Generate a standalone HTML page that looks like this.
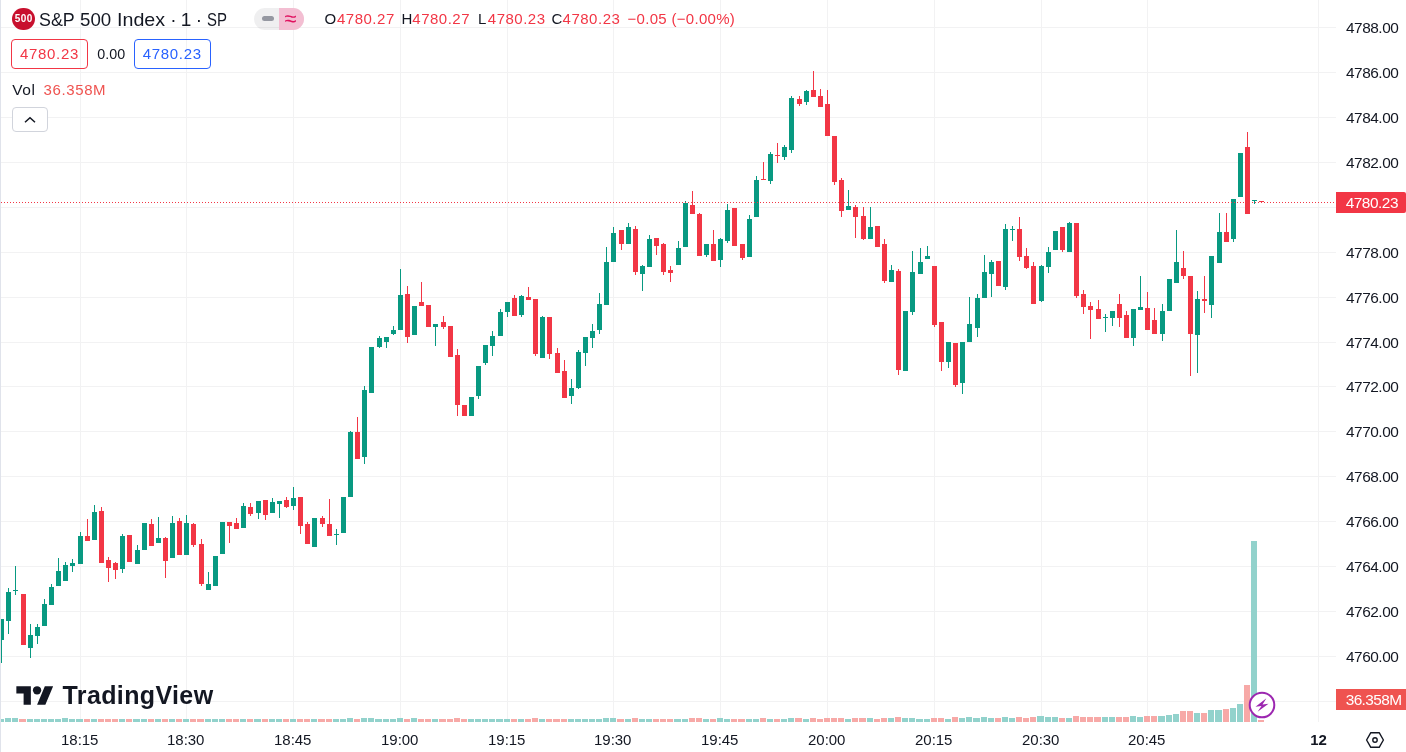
<!DOCTYPE html>
<html><head><meta charset="utf-8"><title>S&amp;P 500 Index chart</title>
<style>
html,body{margin:0;padding:0;background:#fff;}
body{width:1406px;height:752px;position:relative;overflow:hidden;font-family:"Liberation Sans",sans-serif;color:#131722;}
#chart{position:absolute;left:0;top:0;}
.abs{position:absolute;white-space:nowrap;}
.pl{position:absolute;left:1346px;width:58px;height:20px;line-height:20px;font-size:15.4px;letter-spacing:-0.47px;color:#131722;}
.tl{position:absolute;top:730px;width:60px;text-align:center;height:20px;line-height:20px;font-size:15px;letter-spacing:-0.08px;color:#131722;}
.leftedge{position:absolute;left:0;top:0;width:1px;height:752px;background:#e0e3eb;}
.title{left:0;top:8.4px;height:24px;line-height:24px;font-size:19px;}
.tw{position:absolute;top:0;display:block;transform-origin:0 50%;white-space:nowrap;}
.ohlc{top:9.4px;height:20px;line-height:20px;font-size:15px;letter-spacing:0.5px;}
.red{color:#f23645;}
.box{position:absolute;top:39.3px;height:27.3px;width:74.5px;border:1px solid;border-radius:4px;font-size:15px;letter-spacing:0.7px;line-height:27px;text-align:center;}
</style></head><body>
<svg id="chart" width="1406" height="752" viewBox="0 0 1406 752" shape-rendering="crispEdges">
<rect x="80" y="0" width="1" height="722" fill="#f2f2f3"/>
<rect x="186" y="0" width="1" height="722" fill="#f2f2f3"/>
<rect x="293" y="0" width="1" height="722" fill="#f2f2f3"/>
<rect x="400" y="0" width="1" height="722" fill="#f2f2f3"/>
<rect x="507" y="0" width="1" height="722" fill="#f2f2f3"/>
<rect x="613" y="0" width="1" height="722" fill="#f2f2f3"/>
<rect x="720" y="0" width="1" height="722" fill="#f2f2f3"/>
<rect x="827" y="0" width="1" height="722" fill="#f2f2f3"/>
<rect x="934" y="0" width="1" height="722" fill="#f2f2f3"/>
<rect x="1041" y="0" width="1" height="722" fill="#f2f2f3"/>
<rect x="1147" y="0" width="1" height="722" fill="#f2f2f3"/>
<rect x="1318" y="0" width="1" height="722" fill="#f2f2f3"/>
<rect x="0" y="27" width="1336" height="1" fill="#f2f2f3"/>
<rect x="0" y="72" width="1336" height="1" fill="#f2f2f3"/>
<rect x="0" y="117" width="1336" height="1" fill="#f2f2f3"/>
<rect x="0" y="162" width="1336" height="1" fill="#f2f2f3"/>
<rect x="0" y="207" width="1336" height="1" fill="#f2f2f3"/>
<rect x="0" y="252" width="1336" height="1" fill="#f2f2f3"/>
<rect x="0" y="297" width="1336" height="1" fill="#f2f2f3"/>
<rect x="0" y="342" width="1336" height="1" fill="#f2f2f3"/>
<rect x="0" y="386" width="1336" height="1" fill="#f2f2f3"/>
<rect x="0" y="431" width="1336" height="1" fill="#f2f2f3"/>
<rect x="0" y="476" width="1336" height="1" fill="#f2f2f3"/>
<rect x="0" y="521" width="1336" height="1" fill="#f2f2f3"/>
<rect x="0" y="566" width="1336" height="1" fill="#f2f2f3"/>
<rect x="0" y="611" width="1336" height="1" fill="#f2f2f3"/>
<rect x="0" y="656" width="1336" height="1" fill="#f2f2f3"/>
<rect x="0" y="701" width="1336" height="1" fill="#f2f2f3"/>
<rect x="-2" y="719" width="6" height="3" fill="#92d2cc"/>
<rect x="5" y="718" width="6" height="4" fill="#92d2cc"/>
<rect x="12" y="718" width="6" height="4" fill="#92d2cc"/>
<rect x="19" y="719" width="7" height="3" fill="#f7a9a7"/>
<rect x="27" y="719" width="6" height="3" fill="#92d2cc"/>
<rect x="34" y="719" width="6" height="3" fill="#92d2cc"/>
<rect x="41" y="719" width="6" height="3" fill="#92d2cc"/>
<rect x="48" y="719" width="6" height="3" fill="#92d2cc"/>
<rect x="55" y="719" width="6" height="3" fill="#92d2cc"/>
<rect x="62" y="718" width="6" height="4" fill="#92d2cc"/>
<rect x="69" y="719" width="6" height="3" fill="#92d2cc"/>
<rect x="76" y="719" width="7" height="3" fill="#92d2cc"/>
<rect x="84" y="719" width="6" height="3" fill="#f7a9a7"/>
<rect x="91" y="719" width="6" height="3" fill="#92d2cc"/>
<rect x="98" y="719" width="6" height="3" fill="#f7a9a7"/>
<rect x="105" y="719" width="6" height="3" fill="#f7a9a7"/>
<rect x="112" y="719" width="6" height="3" fill="#f7a9a7"/>
<rect x="119" y="719" width="6" height="3" fill="#92d2cc"/>
<rect x="126" y="719" width="6" height="3" fill="#f7a9a7"/>
<rect x="133" y="719" width="7" height="3" fill="#92d2cc"/>
<rect x="141" y="719" width="6" height="3" fill="#92d2cc"/>
<rect x="148" y="719" width="6" height="3" fill="#f7a9a7"/>
<rect x="155" y="719" width="6" height="3" fill="#92d2cc"/>
<rect x="162" y="719" width="6" height="3" fill="#f7a9a7"/>
<rect x="169" y="719" width="6" height="3" fill="#92d2cc"/>
<rect x="176" y="719" width="6" height="3" fill="#f7a9a7"/>
<rect x="183" y="719" width="6" height="3" fill="#92d2cc"/>
<rect x="190" y="719" width="6" height="3" fill="#f7a9a7"/>
<rect x="197" y="719" width="7" height="3" fill="#f7a9a7"/>
<rect x="205" y="719" width="6" height="3" fill="#92d2cc"/>
<rect x="212" y="719" width="6" height="3" fill="#92d2cc"/>
<rect x="219" y="719" width="6" height="3" fill="#92d2cc"/>
<rect x="226" y="719" width="6" height="3" fill="#f7a9a7"/>
<rect x="233" y="719" width="6" height="3" fill="#f7a9a7"/>
<rect x="240" y="719" width="6" height="3" fill="#92d2cc"/>
<rect x="247" y="719" width="6" height="3" fill="#f7a9a7"/>
<rect x="254" y="719" width="7" height="3" fill="#92d2cc"/>
<rect x="262" y="719" width="6" height="3" fill="#f7a9a7"/>
<rect x="269" y="719" width="6" height="3" fill="#92d2cc"/>
<rect x="276" y="719" width="6" height="3" fill="#92d2cc"/>
<rect x="283" y="719" width="6" height="3" fill="#f7a9a7"/>
<rect x="290" y="719" width="6" height="3" fill="#92d2cc"/>
<rect x="297" y="719" width="6" height="3" fill="#f7a9a7"/>
<rect x="304" y="719" width="6" height="3" fill="#f7a9a7"/>
<rect x="311" y="719" width="6" height="3" fill="#92d2cc"/>
<rect x="318" y="719" width="7" height="3" fill="#f7a9a7"/>
<rect x="326" y="719" width="6" height="3" fill="#f7a9a7"/>
<rect x="333" y="719" width="6" height="3" fill="#92d2cc"/>
<rect x="340" y="719" width="6" height="3" fill="#92d2cc"/>
<rect x="347" y="718" width="6" height="4" fill="#92d2cc"/>
<rect x="354" y="719" width="6" height="3" fill="#f7a9a7"/>
<rect x="361" y="718" width="6" height="4" fill="#92d2cc"/>
<rect x="368" y="718" width="6" height="4" fill="#92d2cc"/>
<rect x="375" y="719" width="7" height="3" fill="#92d2cc"/>
<rect x="383" y="719" width="6" height="3" fill="#92d2cc"/>
<rect x="390" y="719" width="6" height="3" fill="#92d2cc"/>
<rect x="397" y="718" width="6" height="4" fill="#92d2cc"/>
<rect x="404" y="719" width="6" height="3" fill="#f7a9a7"/>
<rect x="411" y="718" width="6" height="4" fill="#92d2cc"/>
<rect x="418" y="719" width="6" height="3" fill="#f7a9a7"/>
<rect x="425" y="719" width="6" height="3" fill="#f7a9a7"/>
<rect x="432" y="719" width="6" height="3" fill="#92d2cc"/>
<rect x="439" y="719" width="7" height="3" fill="#f7a9a7"/>
<rect x="447" y="719" width="6" height="3" fill="#f7a9a7"/>
<rect x="454" y="718" width="6" height="4" fill="#f7a9a7"/>
<rect x="461" y="719" width="6" height="3" fill="#f7a9a7"/>
<rect x="468" y="719" width="6" height="3" fill="#92d2cc"/>
<rect x="475" y="719" width="6" height="3" fill="#92d2cc"/>
<rect x="482" y="719" width="6" height="3" fill="#92d2cc"/>
<rect x="489" y="719" width="6" height="3" fill="#92d2cc"/>
<rect x="496" y="719" width="7" height="3" fill="#92d2cc"/>
<rect x="504" y="719" width="6" height="3" fill="#92d2cc"/>
<rect x="511" y="719" width="6" height="3" fill="#f7a9a7"/>
<rect x="518" y="719" width="6" height="3" fill="#92d2cc"/>
<rect x="525" y="719" width="6" height="3" fill="#f7a9a7"/>
<rect x="532" y="718" width="6" height="4" fill="#f7a9a7"/>
<rect x="539" y="719" width="6" height="3" fill="#92d2cc"/>
<rect x="546" y="719" width="6" height="3" fill="#f7a9a7"/>
<rect x="553" y="719" width="7" height="3" fill="#f7a9a7"/>
<rect x="561" y="719" width="6" height="3" fill="#f7a9a7"/>
<rect x="568" y="719" width="6" height="3" fill="#92d2cc"/>
<rect x="575" y="719" width="6" height="3" fill="#92d2cc"/>
<rect x="582" y="719" width="6" height="3" fill="#92d2cc"/>
<rect x="589" y="719" width="6" height="3" fill="#92d2cc"/>
<rect x="596" y="719" width="6" height="3" fill="#92d2cc"/>
<rect x="603" y="718" width="6" height="4" fill="#92d2cc"/>
<rect x="610" y="718" width="6" height="4" fill="#92d2cc"/>
<rect x="617" y="719" width="7" height="3" fill="#f7a9a7"/>
<rect x="625" y="719" width="6" height="3" fill="#92d2cc"/>
<rect x="632" y="718" width="6" height="4" fill="#f7a9a7"/>
<rect x="639" y="719" width="6" height="3" fill="#92d2cc"/>
<rect x="646" y="719" width="6" height="3" fill="#92d2cc"/>
<rect x="653" y="719" width="6" height="3" fill="#f7a9a7"/>
<rect x="660" y="719" width="6" height="3" fill="#f7a9a7"/>
<rect x="667" y="719" width="6" height="3" fill="#f7a9a7"/>
<rect x="674" y="719" width="7" height="3" fill="#92d2cc"/>
<rect x="682" y="719" width="6" height="3" fill="#92d2cc"/>
<rect x="689" y="718" width="6" height="4" fill="#f7a9a7"/>
<rect x="696" y="718" width="6" height="4" fill="#f7a9a7"/>
<rect x="703" y="719" width="6" height="3" fill="#92d2cc"/>
<rect x="710" y="719" width="6" height="3" fill="#f7a9a7"/>
<rect x="717" y="718" width="6" height="4" fill="#92d2cc"/>
<rect x="724" y="719" width="6" height="3" fill="#92d2cc"/>
<rect x="731" y="719" width="6" height="3" fill="#f7a9a7"/>
<rect x="738" y="719" width="7" height="3" fill="#f7a9a7"/>
<rect x="746" y="719" width="6" height="3" fill="#92d2cc"/>
<rect x="753" y="719" width="6" height="3" fill="#92d2cc"/>
<rect x="760" y="718" width="6" height="4" fill="#f7a9a7"/>
<rect x="767" y="719" width="6" height="3" fill="#92d2cc"/>
<rect x="774" y="719" width="6" height="3" fill="#f7a9a7"/>
<rect x="781" y="719" width="6" height="3" fill="#92d2cc"/>
<rect x="788" y="718" width="6" height="4" fill="#92d2cc"/>
<rect x="795" y="718" width="7" height="4" fill="#f7a9a7"/>
<rect x="803" y="719" width="6" height="3" fill="#92d2cc"/>
<rect x="810" y="718" width="6" height="4" fill="#f7a9a7"/>
<rect x="817" y="719" width="6" height="3" fill="#f7a9a7"/>
<rect x="824" y="718" width="6" height="4" fill="#f7a9a7"/>
<rect x="831" y="718" width="6" height="4" fill="#f7a9a7"/>
<rect x="838" y="718" width="6" height="4" fill="#f7a9a7"/>
<rect x="845" y="719" width="6" height="3" fill="#92d2cc"/>
<rect x="852" y="718" width="6" height="4" fill="#f7a9a7"/>
<rect x="859" y="718" width="7" height="4" fill="#f7a9a7"/>
<rect x="867" y="718" width="6" height="4" fill="#92d2cc"/>
<rect x="874" y="719" width="6" height="3" fill="#f7a9a7"/>
<rect x="881" y="718" width="6" height="4" fill="#f7a9a7"/>
<rect x="888" y="718" width="6" height="4" fill="#92d2cc"/>
<rect x="895" y="717" width="6" height="5" fill="#f7a9a7"/>
<rect x="902" y="718" width="6" height="4" fill="#92d2cc"/>
<rect x="909" y="718" width="6" height="4" fill="#92d2cc"/>
<rect x="916" y="719" width="7" height="3" fill="#92d2cc"/>
<rect x="924" y="719" width="6" height="3" fill="#92d2cc"/>
<rect x="931" y="718" width="6" height="4" fill="#f7a9a7"/>
<rect x="938" y="718" width="6" height="4" fill="#f7a9a7"/>
<rect x="945" y="719" width="6" height="3" fill="#92d2cc"/>
<rect x="952" y="717" width="6" height="5" fill="#f7a9a7"/>
<rect x="959" y="718" width="6" height="4" fill="#92d2cc"/>
<rect x="966" y="717" width="6" height="5" fill="#92d2cc"/>
<rect x="973" y="718" width="7" height="4" fill="#92d2cc"/>
<rect x="981" y="717" width="6" height="5" fill="#92d2cc"/>
<rect x="988" y="718" width="6" height="4" fill="#92d2cc"/>
<rect x="995" y="718" width="6" height="4" fill="#f7a9a7"/>
<rect x="1002" y="717" width="6" height="5" fill="#92d2cc"/>
<rect x="1009" y="718" width="6" height="4" fill="#92d2cc"/>
<rect x="1016" y="717" width="6" height="5" fill="#f7a9a7"/>
<rect x="1023" y="718" width="6" height="4" fill="#f7a9a7"/>
<rect x="1030" y="717" width="6" height="5" fill="#f7a9a7"/>
<rect x="1037" y="716" width="7" height="6" fill="#92d2cc"/>
<rect x="1045" y="717" width="6" height="5" fill="#92d2cc"/>
<rect x="1052" y="717" width="6" height="5" fill="#92d2cc"/>
<rect x="1059" y="718" width="6" height="4" fill="#f7a9a7"/>
<rect x="1066" y="718" width="6" height="4" fill="#92d2cc"/>
<rect x="1073" y="716" width="6" height="6" fill="#f7a9a7"/>
<rect x="1080" y="717" width="6" height="5" fill="#f7a9a7"/>
<rect x="1087" y="717" width="6" height="5" fill="#f7a9a7"/>
<rect x="1094" y="717" width="7" height="5" fill="#f7a9a7"/>
<rect x="1102" y="717" width="6" height="5" fill="#92d2cc"/>
<rect x="1109" y="717" width="6" height="5" fill="#92d2cc"/>
<rect x="1116" y="717" width="6" height="5" fill="#f7a9a7"/>
<rect x="1123" y="717" width="6" height="5" fill="#f7a9a7"/>
<rect x="1130" y="716" width="6" height="6" fill="#92d2cc"/>
<rect x="1137" y="717" width="6" height="5" fill="#92d2cc"/>
<rect x="1144" y="716" width="6" height="6" fill="#f7a9a7"/>
<rect x="1151" y="716" width="6" height="6" fill="#f7a9a7"/>
<rect x="1158" y="716" width="7" height="6" fill="#92d2cc"/>
<rect x="1166" y="715" width="6" height="7" fill="#92d2cc"/>
<rect x="1173" y="714" width="6" height="8" fill="#92d2cc"/>
<rect x="1180" y="711" width="6" height="11" fill="#f7a9a7"/>
<rect x="1187" y="711" width="6" height="11" fill="#f7a9a7"/>
<rect x="1194" y="713" width="6" height="9" fill="#92d2cc"/>
<rect x="1201" y="713" width="6" height="9" fill="#f7a9a7"/>
<rect x="1208" y="710" width="6" height="12" fill="#92d2cc"/>
<rect x="1215" y="710" width="7" height="12" fill="#92d2cc"/>
<rect x="1223" y="709" width="6" height="13" fill="#f7a9a7"/>
<rect x="1230" y="708" width="6" height="14" fill="#92d2cc"/>
<rect x="1237" y="704" width="6" height="18" fill="#92d2cc"/>
<rect x="1244" y="685" width="6" height="37" fill="#f7a9a7"/>
<rect x="1251" y="541" width="6" height="181" fill="#92d2cc"/>
<rect x="1258" y="720" width="6" height="2" fill="#f7a9a7"/>
<rect x="1" y="619" width="1" height="44" fill="#089981"/>
<rect x="-1" y="619" width="5" height="21" fill="#089981"/>
<rect x="8" y="588" width="1" height="46" fill="#089981"/>
<rect x="6" y="592" width="5" height="29" fill="#089981"/>
<rect x="15" y="566" width="1" height="29" fill="#089981"/>
<rect x="13" y="590" width="5" height="1" fill="#089981"/>
<rect x="23" y="594" width="1" height="51" fill="#f23645"/>
<rect x="21" y="594" width="5" height="51" fill="#f23645"/>
<rect x="30" y="624" width="1" height="34" fill="#089981"/>
<rect x="28" y="635" width="5" height="13" fill="#089981"/>
<rect x="37" y="624" width="1" height="20" fill="#089981"/>
<rect x="35" y="627" width="5" height="9" fill="#089981"/>
<rect x="44" y="599" width="1" height="27" fill="#089981"/>
<rect x="42" y="604" width="5" height="22" fill="#089981"/>
<rect x="51" y="584" width="1" height="21" fill="#089981"/>
<rect x="49" y="587" width="5" height="18" fill="#089981"/>
<rect x="58" y="558" width="1" height="28" fill="#089981"/>
<rect x="56" y="571" width="5" height="15" fill="#089981"/>
<rect x="65" y="562" width="1" height="19" fill="#089981"/>
<rect x="63" y="565" width="5" height="16" fill="#089981"/>
<rect x="72" y="559" width="1" height="13" fill="#089981"/>
<rect x="70" y="563" width="5" height="3" fill="#089981"/>
<rect x="80" y="532" width="1" height="32" fill="#089981"/>
<rect x="78" y="536" width="5" height="28" fill="#089981"/>
<rect x="87" y="519" width="1" height="22" fill="#f23645"/>
<rect x="85" y="536" width="5" height="5" fill="#f23645"/>
<rect x="94" y="505" width="1" height="35" fill="#089981"/>
<rect x="92" y="512" width="5" height="28" fill="#089981"/>
<rect x="101" y="507" width="1" height="56" fill="#f23645"/>
<rect x="99" y="511" width="5" height="52" fill="#f23645"/>
<rect x="108" y="557" width="1" height="25" fill="#f23645"/>
<rect x="106" y="560" width="5" height="8" fill="#f23645"/>
<rect x="115" y="562" width="1" height="17" fill="#f23645"/>
<rect x="113" y="563" width="5" height="7" fill="#f23645"/>
<rect x="122" y="534" width="1" height="39" fill="#089981"/>
<rect x="120" y="536" width="5" height="33" fill="#089981"/>
<rect x="129" y="535" width="1" height="27" fill="#f23645"/>
<rect x="127" y="535" width="5" height="27" fill="#f23645"/>
<rect x="137" y="545" width="1" height="19" fill="#089981"/>
<rect x="135" y="550" width="5" height="14" fill="#089981"/>
<rect x="144" y="523" width="1" height="27" fill="#089981"/>
<rect x="142" y="523" width="5" height="27" fill="#089981"/>
<rect x="151" y="519" width="1" height="27" fill="#f23645"/>
<rect x="149" y="524" width="5" height="22" fill="#f23645"/>
<rect x="158" y="517" width="1" height="26" fill="#089981"/>
<rect x="156" y="538" width="5" height="5" fill="#089981"/>
<rect x="165" y="537" width="1" height="41" fill="#f23645"/>
<rect x="163" y="538" width="5" height="23" fill="#f23645"/>
<rect x="172" y="516" width="1" height="42" fill="#089981"/>
<rect x="170" y="523" width="5" height="35" fill="#089981"/>
<rect x="179" y="518" width="1" height="37" fill="#f23645"/>
<rect x="177" y="521" width="5" height="34" fill="#f23645"/>
<rect x="186" y="515" width="1" height="40" fill="#089981"/>
<rect x="184" y="523" width="5" height="32" fill="#089981"/>
<rect x="193" y="523" width="1" height="24" fill="#f23645"/>
<rect x="191" y="524" width="5" height="21" fill="#f23645"/>
<rect x="201" y="539" width="1" height="47" fill="#f23645"/>
<rect x="199" y="544" width="5" height="40" fill="#f23645"/>
<rect x="208" y="572" width="1" height="18" fill="#089981"/>
<rect x="206" y="584" width="5" height="6" fill="#089981"/>
<rect x="215" y="556" width="1" height="30" fill="#089981"/>
<rect x="213" y="556" width="5" height="30" fill="#089981"/>
<rect x="222" y="522" width="1" height="32" fill="#089981"/>
<rect x="220" y="522" width="5" height="32" fill="#089981"/>
<rect x="229" y="522" width="1" height="21" fill="#f23645"/>
<rect x="227" y="522" width="5" height="4" fill="#f23645"/>
<rect x="236" y="518" width="1" height="11" fill="#f23645"/>
<rect x="234" y="523" width="5" height="6" fill="#f23645"/>
<rect x="243" y="503" width="1" height="25" fill="#089981"/>
<rect x="241" y="506" width="5" height="22" fill="#089981"/>
<rect x="250" y="503" width="1" height="13" fill="#f23645"/>
<rect x="248" y="507" width="5" height="7" fill="#f23645"/>
<rect x="258" y="501" width="1" height="18" fill="#089981"/>
<rect x="256" y="501" width="5" height="12" fill="#089981"/>
<rect x="265" y="500" width="1" height="20" fill="#f23645"/>
<rect x="263" y="500" width="5" height="15" fill="#f23645"/>
<rect x="272" y="498" width="1" height="15" fill="#089981"/>
<rect x="270" y="502" width="5" height="11" fill="#089981"/>
<rect x="279" y="501" width="1" height="17" fill="#089981"/>
<rect x="277" y="501" width="5" height="3" fill="#089981"/>
<rect x="286" y="497" width="1" height="11" fill="#f23645"/>
<rect x="284" y="500" width="5" height="7" fill="#f23645"/>
<rect x="293" y="487" width="1" height="23" fill="#089981"/>
<rect x="291" y="498" width="5" height="8" fill="#089981"/>
<rect x="300" y="497" width="1" height="37" fill="#f23645"/>
<rect x="298" y="497" width="5" height="29" fill="#f23645"/>
<rect x="307" y="522" width="1" height="22" fill="#f23645"/>
<rect x="305" y="524" width="5" height="20" fill="#f23645"/>
<rect x="314" y="518" width="1" height="29" fill="#089981"/>
<rect x="312" y="518" width="5" height="29" fill="#089981"/>
<rect x="322" y="516" width="1" height="11" fill="#f23645"/>
<rect x="320" y="518" width="5" height="6" fill="#f23645"/>
<rect x="329" y="499" width="1" height="37" fill="#f23645"/>
<rect x="327" y="524" width="5" height="12" fill="#f23645"/>
<rect x="336" y="529" width="1" height="16" fill="#089981"/>
<rect x="334" y="534" width="5" height="1" fill="#089981"/>
<rect x="343" y="497" width="1" height="36" fill="#089981"/>
<rect x="341" y="497" width="5" height="36" fill="#089981"/>
<rect x="350" y="431" width="1" height="66" fill="#089981"/>
<rect x="348" y="432" width="5" height="65" fill="#089981"/>
<rect x="357" y="417" width="1" height="42" fill="#f23645"/>
<rect x="355" y="432" width="5" height="27" fill="#f23645"/>
<rect x="364" y="386" width="1" height="78" fill="#089981"/>
<rect x="362" y="390" width="5" height="67" fill="#089981"/>
<rect x="371" y="347" width="1" height="46" fill="#089981"/>
<rect x="369" y="347" width="5" height="46" fill="#089981"/>
<rect x="379" y="336" width="1" height="12" fill="#089981"/>
<rect x="377" y="338" width="5" height="9" fill="#089981"/>
<rect x="386" y="337" width="1" height="11" fill="#089981"/>
<rect x="384" y="337" width="5" height="5" fill="#089981"/>
<rect x="393" y="326" width="1" height="9" fill="#089981"/>
<rect x="391" y="330" width="5" height="4" fill="#089981"/>
<rect x="400" y="269" width="1" height="61" fill="#089981"/>
<rect x="398" y="295" width="5" height="35" fill="#089981"/>
<rect x="407" y="286" width="1" height="57" fill="#f23645"/>
<rect x="405" y="294" width="5" height="43" fill="#f23645"/>
<rect x="414" y="306" width="1" height="29" fill="#089981"/>
<rect x="412" y="306" width="5" height="29" fill="#089981"/>
<rect x="421" y="282" width="1" height="24" fill="#f23645"/>
<rect x="419" y="302" width="5" height="4" fill="#f23645"/>
<rect x="428" y="305" width="1" height="22" fill="#f23645"/>
<rect x="426" y="305" width="5" height="22" fill="#f23645"/>
<rect x="435" y="324" width="1" height="22" fill="#089981"/>
<rect x="433" y="324" width="5" height="3" fill="#089981"/>
<rect x="443" y="316" width="1" height="13" fill="#f23645"/>
<rect x="441" y="322" width="5" height="5" fill="#f23645"/>
<rect x="450" y="326" width="1" height="31" fill="#f23645"/>
<rect x="448" y="326" width="5" height="31" fill="#f23645"/>
<rect x="457" y="349" width="1" height="67" fill="#f23645"/>
<rect x="455" y="355" width="5" height="50" fill="#f23645"/>
<rect x="464" y="405" width="1" height="11" fill="#f23645"/>
<rect x="462" y="405" width="5" height="11" fill="#f23645"/>
<rect x="471" y="397" width="1" height="19" fill="#089981"/>
<rect x="469" y="397" width="5" height="19" fill="#089981"/>
<rect x="478" y="366" width="1" height="33" fill="#089981"/>
<rect x="476" y="366" width="5" height="30" fill="#089981"/>
<rect x="485" y="345" width="1" height="20" fill="#089981"/>
<rect x="483" y="345" width="5" height="18" fill="#089981"/>
<rect x="492" y="331" width="1" height="25" fill="#089981"/>
<rect x="490" y="336" width="5" height="10" fill="#089981"/>
<rect x="500" y="309" width="1" height="27" fill="#089981"/>
<rect x="498" y="312" width="5" height="24" fill="#089981"/>
<rect x="507" y="302" width="1" height="15" fill="#089981"/>
<rect x="505" y="302" width="5" height="10" fill="#089981"/>
<rect x="514" y="295" width="1" height="21" fill="#f23645"/>
<rect x="512" y="298" width="5" height="18" fill="#f23645"/>
<rect x="521" y="295" width="1" height="22" fill="#089981"/>
<rect x="519" y="296" width="5" height="19" fill="#089981"/>
<rect x="528" y="287" width="1" height="13" fill="#f23645"/>
<rect x="526" y="297" width="5" height="3" fill="#f23645"/>
<rect x="535" y="299" width="1" height="57" fill="#f23645"/>
<rect x="533" y="299" width="5" height="55" fill="#f23645"/>
<rect x="542" y="316" width="1" height="42" fill="#089981"/>
<rect x="540" y="317" width="5" height="41" fill="#089981"/>
<rect x="549" y="317" width="1" height="42" fill="#f23645"/>
<rect x="547" y="317" width="5" height="37" fill="#f23645"/>
<rect x="557" y="348" width="1" height="25" fill="#f23645"/>
<rect x="555" y="353" width="5" height="20" fill="#f23645"/>
<rect x="564" y="360" width="1" height="38" fill="#f23645"/>
<rect x="562" y="371" width="5" height="27" fill="#f23645"/>
<rect x="571" y="379" width="1" height="25" fill="#089981"/>
<rect x="569" y="388" width="5" height="8" fill="#089981"/>
<rect x="578" y="350" width="1" height="39" fill="#089981"/>
<rect x="576" y="352" width="5" height="36" fill="#089981"/>
<rect x="585" y="337" width="1" height="29" fill="#089981"/>
<rect x="583" y="337" width="5" height="16" fill="#089981"/>
<rect x="592" y="324" width="1" height="24" fill="#089981"/>
<rect x="590" y="331" width="5" height="7" fill="#089981"/>
<rect x="599" y="293" width="1" height="41" fill="#089981"/>
<rect x="597" y="304" width="5" height="26" fill="#089981"/>
<rect x="606" y="247" width="1" height="58" fill="#089981"/>
<rect x="604" y="262" width="5" height="43" fill="#089981"/>
<rect x="613" y="227" width="1" height="35" fill="#089981"/>
<rect x="611" y="233" width="5" height="29" fill="#089981"/>
<rect x="621" y="230" width="1" height="20" fill="#f23645"/>
<rect x="619" y="230" width="5" height="14" fill="#f23645"/>
<rect x="628" y="223" width="1" height="21" fill="#089981"/>
<rect x="626" y="227" width="5" height="17" fill="#089981"/>
<rect x="635" y="226" width="1" height="49" fill="#f23645"/>
<rect x="633" y="229" width="5" height="43" fill="#f23645"/>
<rect x="642" y="265" width="1" height="26" fill="#089981"/>
<rect x="640" y="266" width="5" height="8" fill="#089981"/>
<rect x="649" y="235" width="1" height="32" fill="#089981"/>
<rect x="647" y="239" width="5" height="28" fill="#089981"/>
<rect x="656" y="238" width="1" height="17" fill="#f23645"/>
<rect x="654" y="238" width="5" height="8" fill="#f23645"/>
<rect x="663" y="243" width="1" height="32" fill="#f23645"/>
<rect x="661" y="244" width="5" height="28" fill="#f23645"/>
<rect x="670" y="266" width="1" height="16" fill="#f23645"/>
<rect x="668" y="270" width="5" height="3" fill="#f23645"/>
<rect x="678" y="241" width="1" height="24" fill="#089981"/>
<rect x="676" y="248" width="5" height="17" fill="#089981"/>
<rect x="685" y="201" width="1" height="46" fill="#089981"/>
<rect x="683" y="203" width="5" height="44" fill="#089981"/>
<rect x="692" y="191" width="1" height="23" fill="#f23645"/>
<rect x="690" y="205" width="5" height="9" fill="#f23645"/>
<rect x="699" y="213" width="1" height="43" fill="#f23645"/>
<rect x="697" y="214" width="5" height="42" fill="#f23645"/>
<rect x="706" y="244" width="1" height="13" fill="#089981"/>
<rect x="704" y="244" width="5" height="11" fill="#089981"/>
<rect x="713" y="230" width="1" height="31" fill="#f23645"/>
<rect x="711" y="244" width="5" height="17" fill="#f23645"/>
<rect x="720" y="238" width="1" height="29" fill="#089981"/>
<rect x="718" y="239" width="5" height="21" fill="#089981"/>
<rect x="727" y="204" width="1" height="39" fill="#089981"/>
<rect x="725" y="210" width="5" height="31" fill="#089981"/>
<rect x="734" y="208" width="1" height="38" fill="#f23645"/>
<rect x="732" y="208" width="5" height="38" fill="#f23645"/>
<rect x="742" y="244" width="1" height="16" fill="#f23645"/>
<rect x="740" y="244" width="5" height="14" fill="#f23645"/>
<rect x="749" y="215" width="1" height="42" fill="#089981"/>
<rect x="747" y="219" width="5" height="38" fill="#089981"/>
<rect x="756" y="176" width="1" height="41" fill="#089981"/>
<rect x="754" y="180" width="5" height="37" fill="#089981"/>
<rect x="763" y="162" width="1" height="18" fill="#f23645"/>
<rect x="761" y="179" width="5" height="1" fill="#f23645"/>
<rect x="770" y="152" width="1" height="32" fill="#089981"/>
<rect x="768" y="154" width="5" height="27" fill="#089981"/>
<rect x="777" y="143" width="1" height="20" fill="#f23645"/>
<rect x="775" y="155" width="5" height="1" fill="#f23645"/>
<rect x="784" y="145" width="1" height="15" fill="#089981"/>
<rect x="782" y="147" width="5" height="10" fill="#089981"/>
<rect x="791" y="96" width="1" height="57" fill="#089981"/>
<rect x="789" y="98" width="5" height="52" fill="#089981"/>
<rect x="799" y="96" width="1" height="10" fill="#f23645"/>
<rect x="797" y="99" width="5" height="5" fill="#f23645"/>
<rect x="806" y="90" width="1" height="15" fill="#089981"/>
<rect x="804" y="91" width="5" height="11" fill="#089981"/>
<rect x="813" y="71" width="1" height="26" fill="#f23645"/>
<rect x="811" y="90" width="5" height="7" fill="#f23645"/>
<rect x="820" y="89" width="1" height="18" fill="#f23645"/>
<rect x="818" y="96" width="5" height="11" fill="#f23645"/>
<rect x="827" y="90" width="1" height="46" fill="#f23645"/>
<rect x="825" y="104" width="5" height="32" fill="#f23645"/>
<rect x="834" y="136" width="1" height="49" fill="#f23645"/>
<rect x="832" y="136" width="5" height="46" fill="#f23645"/>
<rect x="841" y="178" width="1" height="39" fill="#f23645"/>
<rect x="839" y="180" width="5" height="31" fill="#f23645"/>
<rect x="848" y="190" width="1" height="20" fill="#089981"/>
<rect x="846" y="206" width="5" height="4" fill="#089981"/>
<rect x="855" y="205" width="1" height="33" fill="#f23645"/>
<rect x="853" y="207" width="5" height="10" fill="#f23645"/>
<rect x="863" y="207" width="1" height="33" fill="#f23645"/>
<rect x="861" y="216" width="5" height="23" fill="#f23645"/>
<rect x="870" y="207" width="1" height="32" fill="#089981"/>
<rect x="868" y="227" width="5" height="12" fill="#089981"/>
<rect x="877" y="226" width="1" height="21" fill="#f23645"/>
<rect x="875" y="226" width="5" height="21" fill="#f23645"/>
<rect x="884" y="239" width="1" height="44" fill="#f23645"/>
<rect x="882" y="244" width="5" height="37" fill="#f23645"/>
<rect x="891" y="265" width="1" height="17" fill="#089981"/>
<rect x="889" y="270" width="5" height="12" fill="#089981"/>
<rect x="898" y="269" width="1" height="106" fill="#f23645"/>
<rect x="896" y="271" width="5" height="99" fill="#f23645"/>
<rect x="905" y="311" width="1" height="60" fill="#089981"/>
<rect x="903" y="311" width="5" height="60" fill="#089981"/>
<rect x="912" y="251" width="1" height="64" fill="#089981"/>
<rect x="910" y="272" width="5" height="40" fill="#089981"/>
<rect x="920" y="248" width="1" height="26" fill="#089981"/>
<rect x="918" y="262" width="5" height="12" fill="#089981"/>
<rect x="927" y="246" width="1" height="13" fill="#089981"/>
<rect x="925" y="256" width="5" height="3" fill="#089981"/>
<rect x="934" y="266" width="1" height="61" fill="#f23645"/>
<rect x="932" y="266" width="5" height="59" fill="#f23645"/>
<rect x="941" y="322" width="1" height="49" fill="#f23645"/>
<rect x="939" y="322" width="5" height="40" fill="#f23645"/>
<rect x="948" y="342" width="1" height="26" fill="#089981"/>
<rect x="946" y="342" width="5" height="20" fill="#089981"/>
<rect x="955" y="343" width="1" height="44" fill="#f23645"/>
<rect x="953" y="343" width="5" height="42" fill="#f23645"/>
<rect x="962" y="342" width="1" height="52" fill="#089981"/>
<rect x="960" y="342" width="5" height="41" fill="#089981"/>
<rect x="969" y="297" width="1" height="45" fill="#089981"/>
<rect x="967" y="324" width="5" height="18" fill="#089981"/>
<rect x="977" y="294" width="1" height="43" fill="#089981"/>
<rect x="975" y="298" width="5" height="30" fill="#089981"/>
<rect x="984" y="255" width="1" height="43" fill="#089981"/>
<rect x="982" y="272" width="5" height="26" fill="#089981"/>
<rect x="991" y="260" width="1" height="37" fill="#089981"/>
<rect x="989" y="262" width="5" height="12" fill="#089981"/>
<rect x="998" y="261" width="1" height="25" fill="#f23645"/>
<rect x="996" y="261" width="5" height="25" fill="#f23645"/>
<rect x="1005" y="224" width="1" height="66" fill="#089981"/>
<rect x="1003" y="229" width="5" height="58" fill="#089981"/>
<rect x="1012" y="226" width="1" height="15" fill="#089981"/>
<rect x="1010" y="229" width="5" height="1" fill="#089981"/>
<rect x="1019" y="217" width="1" height="44" fill="#f23645"/>
<rect x="1017" y="229" width="5" height="28" fill="#f23645"/>
<rect x="1026" y="248" width="1" height="21" fill="#f23645"/>
<rect x="1024" y="256" width="5" height="12" fill="#f23645"/>
<rect x="1033" y="262" width="1" height="42" fill="#f23645"/>
<rect x="1031" y="266" width="5" height="38" fill="#f23645"/>
<rect x="1041" y="265" width="1" height="37" fill="#089981"/>
<rect x="1039" y="266" width="5" height="35" fill="#089981"/>
<rect x="1048" y="247" width="1" height="26" fill="#089981"/>
<rect x="1046" y="252" width="5" height="15" fill="#089981"/>
<rect x="1055" y="231" width="1" height="19" fill="#089981"/>
<rect x="1053" y="231" width="5" height="19" fill="#089981"/>
<rect x="1062" y="227" width="1" height="25" fill="#f23645"/>
<rect x="1060" y="227" width="5" height="23" fill="#f23645"/>
<rect x="1069" y="222" width="1" height="30" fill="#089981"/>
<rect x="1067" y="223" width="5" height="29" fill="#089981"/>
<rect x="1076" y="223" width="1" height="75" fill="#f23645"/>
<rect x="1074" y="223" width="5" height="73" fill="#f23645"/>
<rect x="1083" y="290" width="1" height="24" fill="#f23645"/>
<rect x="1081" y="294" width="5" height="13" fill="#f23645"/>
<rect x="1090" y="302" width="1" height="37" fill="#f23645"/>
<rect x="1088" y="306" width="5" height="4" fill="#f23645"/>
<rect x="1098" y="300" width="1" height="19" fill="#f23645"/>
<rect x="1096" y="309" width="5" height="10" fill="#f23645"/>
<rect x="1105" y="314" width="1" height="18" fill="#089981"/>
<rect x="1103" y="317" width="5" height="1" fill="#089981"/>
<rect x="1112" y="311" width="1" height="15" fill="#089981"/>
<rect x="1110" y="311" width="5" height="7" fill="#089981"/>
<rect x="1119" y="294" width="1" height="33" fill="#f23645"/>
<rect x="1117" y="304" width="5" height="14" fill="#f23645"/>
<rect x="1126" y="311" width="1" height="27" fill="#f23645"/>
<rect x="1124" y="315" width="5" height="23" fill="#f23645"/>
<rect x="1133" y="309" width="1" height="37" fill="#089981"/>
<rect x="1131" y="309" width="5" height="29" fill="#089981"/>
<rect x="1140" y="276" width="1" height="34" fill="#089981"/>
<rect x="1138" y="307" width="5" height="3" fill="#089981"/>
<rect x="1147" y="292" width="1" height="38" fill="#f23645"/>
<rect x="1145" y="308" width="5" height="22" fill="#f23645"/>
<rect x="1154" y="308" width="1" height="26" fill="#f23645"/>
<rect x="1152" y="320" width="5" height="14" fill="#f23645"/>
<rect x="1162" y="304" width="1" height="37" fill="#089981"/>
<rect x="1160" y="311" width="5" height="23" fill="#089981"/>
<rect x="1169" y="279" width="1" height="32" fill="#089981"/>
<rect x="1167" y="279" width="5" height="32" fill="#089981"/>
<rect x="1176" y="230" width="1" height="53" fill="#089981"/>
<rect x="1174" y="262" width="5" height="21" fill="#089981"/>
<rect x="1183" y="251" width="1" height="28" fill="#f23645"/>
<rect x="1181" y="268" width="5" height="8" fill="#f23645"/>
<rect x="1190" y="276" width="1" height="100" fill="#f23645"/>
<rect x="1188" y="276" width="5" height="58" fill="#f23645"/>
<rect x="1197" y="291" width="1" height="82" fill="#089981"/>
<rect x="1195" y="299" width="5" height="36" fill="#089981"/>
<rect x="1204" y="276" width="1" height="37" fill="#f23645"/>
<rect x="1202" y="299" width="5" height="2" fill="#f23645"/>
<rect x="1211" y="256" width="1" height="62" fill="#089981"/>
<rect x="1209" y="256" width="5" height="49" fill="#089981"/>
<rect x="1219" y="213" width="1" height="50" fill="#089981"/>
<rect x="1217" y="232" width="5" height="31" fill="#089981"/>
<rect x="1226" y="213" width="1" height="29" fill="#f23645"/>
<rect x="1224" y="232" width="5" height="10" fill="#f23645"/>
<rect x="1233" y="199" width="1" height="43" fill="#089981"/>
<rect x="1231" y="199" width="5" height="40" fill="#089981"/>
<rect x="1240" y="153" width="1" height="44" fill="#089981"/>
<rect x="1238" y="153" width="5" height="44" fill="#089981"/>
<rect x="1247" y="132" width="1" height="82" fill="#f23645"/>
<rect x="1245" y="147" width="5" height="67" fill="#f23645"/>
<rect x="1254" y="200" width="1" height="4" fill="#089981"/>
<rect x="1252" y="200" width="5" height="1" fill="#089981"/>
<rect x="1261" y="201" width="1" height="1" fill="#f23645"/>
<rect x="1259" y="201" width="5" height="1" fill="#f23645"/>
<line x1="1" y1="202.5" x2="1335" y2="202.5" stroke="#f23645" stroke-width="1" stroke-dasharray="1 2"/>
</svg>
<div class="leftedge"></div>

<!-- legend -->
<div class="abs" style="left:12.2px;top:7.6px;width:22.7px;height:22.6px;border-radius:50%;background:#c8102e;color:#fff;font-size:10px;font-weight:bold;line-height:22.6px;text-align:center;letter-spacing:0.5px;text-indent:0.5px;">500</div>
<div class="abs title" style="left:0;width:240px;"><span class="tw" style="left:39.36px;transform:scaleX(0.939);">S&amp;P</span><span class="tw" style="left:80.22px;transform:scaleX(0.983);">500</span><span class="tw" style="left:117.13px;transform:scaleX(1.034);">Index</span><span class="tw" style="left:168.30px;width:10px;text-align:center;">·</span><span class="tw" style="left:180.05px;width:12px;text-align:center;">1</span><span class="tw" style="left:193.90px;width:10px;text-align:center;">·</span><span class="tw" style="left:207.01px;transform:scaleX(0.787);">SP</span></div>
<div class="abs" style="left:253.7px;top:8px;width:50px;height:22px;border-radius:11px;overflow:hidden;background:rgba(42,46,57,0.075);">
  <div style="position:absolute;left:8.2px;top:8.4px;width:12.3px;height:5px;border-radius:2.5px;background:#9598a1;"></div>
  <div style="position:absolute;left:25.3px;top:0;width:25px;height:22px;background:#f3bed2;color:#e0115f;font-size:22px;line-height:22.5px;text-align:center;"><span style="position:relative;left:-1.2px;">≈</span></div>
</div>
<div class="abs ohlc" style="left:324.5px;">O</div><div class="abs ohlc red" style="left:337px;">4780.27</div>
<div class="abs ohlc" style="left:401.5px;">H</div><div class="abs ohlc red" style="left:412.3px;">4780.27</div>
<div class="abs ohlc" style="left:478px;">L</div><div class="abs ohlc red" style="left:487.8px;">4780.23</div>
<div class="abs ohlc" style="left:551.5px;">C</div><div class="abs ohlc red" style="left:562.6px;">4780.23</div>
<div class="abs ohlc red" style="left:627.5px;letter-spacing:0.3px;">−0.05 (−0.00%)</div>

<div class="box" style="left:11.2px;border-color:#f23645;color:#f23645;">4780.23</div>
<div class="abs" style="left:97.3px;top:44px;height:20px;line-height:20px;font-size:14.3px;">0.00</div>
<div class="box" style="left:134px;border-color:#2962ff;color:#2962ff;">4780.23</div>

<div class="abs" style="left:12.3px;top:79.5px;height:20px;line-height:20px;font-size:15.5px;letter-spacing:0.5px;">Vol</div>
<div class="abs" style="left:43.6px;top:79.5px;height:20px;line-height:20px;font-size:15px;letter-spacing:0.6px;color:#ef5350;">36.358M</div>

<div class="abs" style="left:12px;top:107px;width:34px;height:23px;border:1px solid #d1d4dc;border-radius:4px;background:#fff;">
 <svg width="34" height="23" viewBox="0 0 34 23" style="position:absolute;left:0;top:0"><path d="M12 14.3 L17 9.7 L22 14.3" fill="none" stroke="#131722" stroke-width="1.5"/></svg>
</div>

<!-- TradingView logo -->
<svg class="abs" style="left:16px;top:682px;" width="38" height="29" viewBox="0 0 36 28"><path d="M14 22H7V11H0V4h14v18zM28 22h-8l7.5-18h8L28 22z" fill="#131722"/><circle cx="20" cy="8" r="4" fill="#131722"/></svg>
<div class="abs" style="left:62.5px;top:680px;height:30px;line-height:30px;font-size:25px;font-weight:bold;letter-spacing:0.38px;color:#131722;">TradingView</div>

<!-- price axis -->
<div class="pl" style="top:18.00px">4788.00</div>
<div class="pl" style="top:63.00px">4786.00</div>
<div class="pl" style="top:108.00px">4784.00</div>
<div class="pl" style="top:153.00px">4782.00</div>
<div class="pl" style="top:243.00px">4778.00</div>
<div class="pl" style="top:288.00px">4776.00</div>
<div class="pl" style="top:333.00px">4774.00</div>
<div class="pl" style="top:377.00px">4772.00</div>
<div class="pl" style="top:422.00px">4770.00</div>
<div class="pl" style="top:467.00px">4768.00</div>
<div class="pl" style="top:512.00px">4766.00</div>
<div class="pl" style="top:557.00px">4764.00</div>
<div class="pl" style="top:602.00px">4762.00</div>
<div class="pl" style="top:647.00px">4760.00</div>

<div class="abs" style="left:1336px;top:192px;width:70px;height:21px;background:#f23645;color:#fff;font-size:15.4px;letter-spacing:-0.47px;line-height:22px;border-radius:0 2px 2px 0;"><span style="margin-left:9.7px;">4780.23</span></div>
<div class="abs" style="left:1336px;top:689px;width:70px;height:21px;background:#ef5350;color:#fff;font-size:15.4px;letter-spacing:-0.6px;line-height:22px;"><span style="margin-left:9.7px;">36.358M</span></div>

<!-- lightning -->
<svg class="abs" style="left:1247.6px;top:691.3px;" width="28" height="28" viewBox="0 0 28 28"><circle cx="14" cy="14" r="12.3" fill="#fff" stroke="#9c27b0" stroke-width="2"/><path d="M18.4 7.3 L7.5 15.7 L13.5 15 L9.6 20.8 L20.5 12.7 L14.5 13.4 Z" fill="#9c27b0"/></svg>

<!-- time axis -->
<div class="tl" style="left:49.7px">18:15</div>
<div class="tl" style="left:155.7px">18:30</div>
<div class="tl" style="left:262.7px">18:45</div>
<div class="tl" style="left:369.7px">19:00</div>
<div class="tl" style="left:476.7px">19:15</div>
<div class="tl" style="left:582.7px">19:30</div>
<div class="tl" style="left:689.7px">19:45</div>
<div class="tl" style="left:796.7px">20:00</div>
<div class="tl" style="left:903.7px">20:15</div>
<div class="tl" style="left:1010.7px">20:30</div>
<div class="tl" style="left:1116.7px">20:45</div>

<div class="tl" style="left:1288.5px;font-weight:bold;">12</div>
<svg class="abs" style="left:1363px;top:728px;" width="24" height="24" viewBox="0 0 24 24"><path d="M7.8 4.7 H16.2 L20.4 12 L16.2 19.3 H7.8 L3.6 12 Z" fill="none" stroke="#131722" stroke-width="1.4" stroke-linejoin="round"/><circle cx="12" cy="12" r="2.2" fill="none" stroke="#131722" stroke-width="1.4"/></svg>
</body></html>
